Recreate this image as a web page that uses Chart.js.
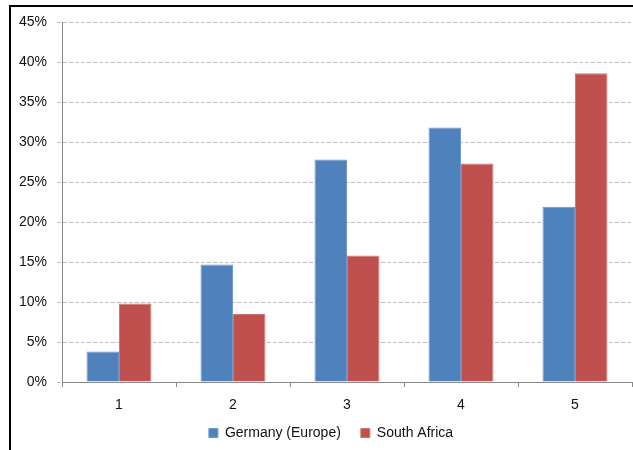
<!DOCTYPE html>
<html>
<head>
<meta charset="utf-8">
<script src="https://cdn.jsdelivr.net/npm/chart.js@4"></script>
<style>
  html, body { margin: 0; padding: 0; background: #fff; }
  #wrap { position: relative; width: 633px; height: 450px; }
</style>
</head>
<body>
<div id="wrap"><canvas id="chart" width="633" height="450"></canvas></div>
<script>
// Données
const categories = ['1', '2', '3', '4', '5'];
const germany = [3.8, 14.7, 27.8, 31.8, 21.9];
const southAfrica = [9.8, 8.5, 15.8, 27.3, 38.6];
const seriesNames = ['Germany (Europe)', 'South Africa'];

// Cadre noir en haut et à gauche
const framePlugin = {
    id: 'frame',
    afterDraw(chart) {
        const { ctx } = chart;
        ctx.save();
        ctx.fillStyle = '#000';
        ctx.fillRect(9, 5, 624, 2);
        ctx.fillRect(9, 5, 2, 445);
        ctx.restore();
    }
};

// Décale la légende pour la placer comme sur l'original
const legendShiftPlugin = {
    id: 'legendShift',
    afterLayout(chart) {
        const lg = chart.legend;
        if (!lg) return;
        const h = lg.height;
        lg.top = 406;
        lg.bottom = 406 + h;
        lg.left += 15;
        lg.right += 15;
    }
};

const ctx = document.getElementById('chart').getContext('2d');
new Chart(ctx, {
    type: 'bar',
    data: {
        labels: categories,
        datasets: [
            {
                label: seriesNames[0],
                data: germany,
                backgroundColor: '#4F81BD',
                borderColor: '#7097c9',
                borderWidth: 1
            },
            {
                label: seriesNames[1],
                data: southAfrica,
                backgroundColor: '#C0504D',
                borderColor: '#d07472',
                borderWidth: 1
            }
        ]
    },
    options: {
        responsive: false,
        animation: false,
        layout: { padding: { top: 22, right: 1, bottom: -16, left: 0 } },
        datasets: { bar: { categoryPercentage: 0.57, barPercentage: 1 } },
        scales: {
            x: {
                offset: true,
                grid: {
                    offset: true,
                    drawOnChartArea: false,
                    drawTicks: true,
                    tickLength: 5,
                    tickColor: '#888',
                    color: '#888'
                },
                border: { color: '#888', width: 1 },
                ticks: {
                    padding: 10,
                    color: '#111',
                    font: { family: 'Liberation Sans', size: 14 }
                },
                afterFit(scale) { scale.height = 40; }
            },
            y: {
                min: 0,
                max: 45,
                ticks: {
                    stepSize: 5,
                    padding: 10,
                    color: '#111',
                    font: { family: 'Liberation Sans', size: 14 },
                    callback: (v) => v + '%'
                },
                grid: {
                    color: '#BFBFBF',
                    tickColor: '#BFBFBF',
                    tickLength: 5,
                    tickBorderDash: [4, 2]
                },
                border: { display: true, color: '#888', width: 1, dash: [4, 2] },
                afterFit(scale) { scale.width = 62; }
            }
        },
        plugins: {
            legend: {
                position: 'bottom',
                labels: {
                    boxWidth: 9,
                    boxHeight: 9,
                    padding: 20,
                    color: '#111',
                    font: { family: 'Liberation Sans', size: 14 }
                }
            },
            tooltip: { enabled: false }
        }
    },
    plugins: [framePlugin, legendShiftPlugin]
});
</script>
</body>
</html>
